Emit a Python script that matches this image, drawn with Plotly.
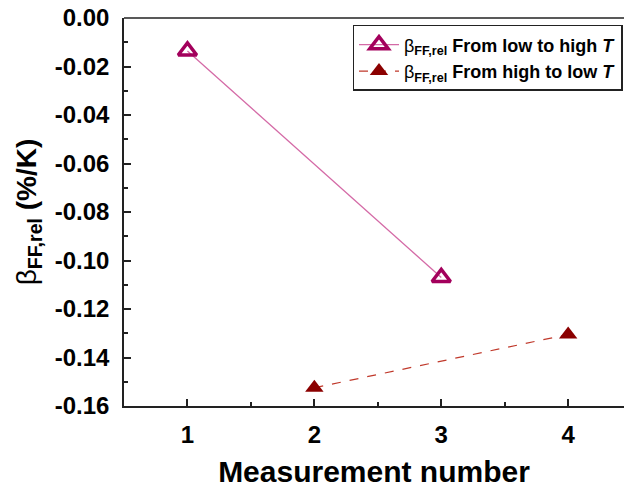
import plotly.graph_objects as go

# Relative fill-factor temperature coefficient per measurement run
meas_up = [1, 3]
beta_up = [-0.0136, -0.107]
meas_down = [2, 4]
beta_down = [-0.1525, -0.1305]

x_ticks = [1, 2, 3, 4]
y_ticks = [0.00, -0.02, -0.04, -0.06, -0.08, -0.10, -0.12, -0.14, -0.16]

FONT = "Liberation Sans"
AXIS_COLOR = "#222222"

fig = go.Figure()
fig.add_trace(go.Scatter(
    x=meas_up, y=beta_up, mode="lines+markers",
    name="β<sub><b>FF,rel</b></sub> <b>From low to high <i>T</i></b>",
    line=dict(color="#d46aa6", width=1.3),
    marker=dict(symbol="triangle-up-open", size=16, color="#a3005c",
                line=dict(width=3.5, color="#a3005c")),
))
fig.add_trace(go.Scatter(
    x=meas_down, y=beta_down, mode="lines+markers",
    name="β<sub><b>FF,rel</b></sub> <b>From high to low <i>T</i></b>",
    line=dict(color="#c0392b", width=1.2, dash="dash"),
    marker=dict(symbol="triangle-up", size=16, color="#8b0000"),
))

# Frame line along the top of the plotting area
fig.add_shape(type="line", xref="paper", yref="paper", x0=0, x1=1, y0=1, y1=1,
              line=dict(color=AXIS_COLOR, width=1.6))

fig.update_layout(
    width=624, height=488, autosize=False,
    margin=dict(l=124, r=0, t=18, b=82),
    paper_bgcolor="white", plot_bgcolor="white",
    font=dict(family=FONT, color="black"),
    showlegend=True,
    legend=dict(
        x=0.457, y=0.982, xanchor="left", yanchor="top",
        bordercolor="#222222", borderwidth=1.5, bgcolor="white",
        font=dict(family=FONT, size=18, color="black"),
        tracegroupgap=0, itemwidth=40,
    ),
)

fig.update_xaxes(
    range=[0.5, 4.44], tickvals=x_ticks,
    ticktext=[f"<b>{v}</b>" for v in x_ticks],
    tickfont=dict(family=FONT, size=24, color="black"),
    ticks="inside", ticklen=7, tickwidth=1.5, tickcolor=AXIS_COLOR,
    minor=dict(dtick=0.5, tick0=0.5, ticks="inside", ticklen=4, tickwidth=1.5, tickcolor=AXIS_COLOR),
    showline=True, linecolor=AXIS_COLOR, linewidth=1.6,
    showgrid=False, zeroline=False, ticklabelstandoff=6,
    title=dict(text="<b>Measurement number</b>", font=dict(family=FONT, size=30, color="black"),
               standoff=14),
)
fig.update_yaxes(
    range=[-0.16, 0.0], tickvals=y_ticks,
    ticktext=[f"<b>{v:.2f}</b>" for v in y_ticks],
    tickfont=dict(family=FONT, size=24, color="black"),
    ticks="inside", ticklen=7, tickwidth=1.5, tickcolor=AXIS_COLOR,
    minor=dict(dtick=0.01, tick0=0, ticks="inside", ticklen=4, tickwidth=1.5, tickcolor=AXIS_COLOR),
    showline=True, linecolor=AXIS_COLOR, linewidth=1.6,
    showgrid=False, zeroline=False, ticklabelstandoff=8,
    title=dict(text="β<sub><b>FF,rel</b></sub> <b>(%/K)</b>", font=dict(family=FONT, size=28, color="black"),
               standoff=10),
)

fig.write_html("out.html")
